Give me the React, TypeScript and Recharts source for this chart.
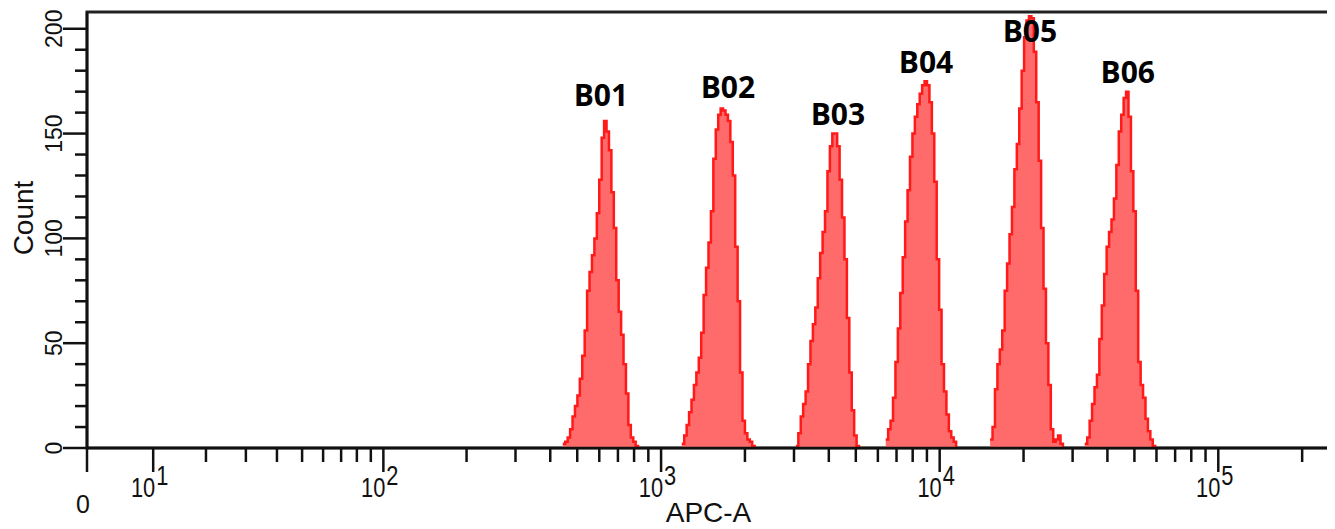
import React from 'react';
import { AreaChart, Area, XAxis, YAxis, ReferenceArea, ReferenceDot, Label } from 'recharts';

// APC-A is shown on a biexponential (arcsinh) scale, binned into 512 display channels
const CHANNELS = 512;
const T_WIDTH = 17.4;
const CH_PER_UNIT = 49.84;
const toChannel = (v: number) => Math.asinh(v / T_WIDTH) * CH_PER_UNIT;

const PEAK_NAMES = ['B01', 'B02', 'B03', 'B04', 'B05', 'B06'];
const PEAK_START = [196, 245, 292, 329, 372, 411];

const B01_COUNTS = [2, 3, 5, 9, 15, 20, 25, 33, 44, 56, 75, 84, 92, 100, 112, 128, 148, 156, 151, 142, 122, 105, 80, 65, 54, 40, 26, 11, 5, 3, 1];
const B02_COUNTS = [2, 6, 11, 17, 23, 30, 36, 43, 55, 73, 86, 98, 113, 138, 152, 159, 162, 161, 159, 156, 146, 130, 96, 70, 36, 13, 7, 4, 3, 1];
const B03_COUNTS = [1, 7, 15, 21, 27, 40, 51, 59, 67, 81, 93, 103, 113, 132, 144, 150, 150, 144, 128, 110, 90, 62, 36, 18, 6, 1];
const B04_COUNTS = [4, 9, 13, 24, 41, 57, 74, 91, 108, 123, 139, 150, 158, 164, 169, 173, 175, 173, 165, 150, 127, 90, 66, 40, 27, 16, 8, 5, 3];
const B05_COUNTS = [4, 10, 28, 40, 47, 56, 75, 88, 102, 115, 133, 145, 162, 180, 196, 204, 206, 205, 189, 165, 137, 105, 76, 50, 30, 9, 3, 4, 6, 2];
const B06_COUNTS = [2, 5, 13, 21, 29, 35, 52, 68, 83, 96, 103, 109, 119, 135, 151, 159, 167, 170, 158, 132, 113, 75, 41, 30, 24, 14, 8, 4, 1];
const PEAK_COUNTS = [B01_COUNTS, B02_COUNTS, B03_COUNTS, B04_COUNTS, B05_COUNTS, B06_COUNTS];

// where each peak name sits (channel, count)
const LABEL_CH = [211.7, 264, 309.3, 345.6, 388.4, 428.7];
const LABEL_COUNT = [168, 172, 159, 184, 199, 179];

const X_MAJOR = [0, 10, 100, 1000, 10000, 100000];
const X_MINOR = [
  20, 30, 40, 50, 60, 70, 80, 90,
  200, 300, 400, 500, 600, 700, 800, 900,
  2000, 3000, 4000, 5000, 6000, 7000, 8000, 9000,
  20000, 30000, 40000, 50000, 60000, 70000, 80000, 90000,
  200000,
];
const Y_TICKS = [0, 10, 20, 30, 40, 50, 60, 70, 80, 90, 100, 110, 120, 130, 140, 150, 160, 170, 180, 190, 200];
const Y_MAX = 208;

const rows: { ch: number; count: number | null }[] = [];
PEAK_COUNTS.forEach((counts, p) => {
  counts.forEach((n, i) => rows.push({ ch: PEAK_START[p] + i, count: n }));
  const end = PEAK_START[p] + counts.length;
  rows.push({ ch: end, count: 0 });
  rows.push({ ch: end + 0.5, count: null });
});

const xTicks = [
  ...X_MAJOR.map((v) => ({ v, major: true })),
  ...X_MINOR.map((v) => ({ v, major: false })),
]
  .map((t) => ({ ...t, ch: toChannel(t.v) }))
  .sort((a, b) => a.ch - b.ch);

const AXIS = '#111';
const FONT = '"Liberation Sans", Arial, sans-serif';

const XTick = ({ x, y, payload }: any) => {
  const t = xTicks.find((k) => Math.abs(k.ch - payload.value) < 1e-6);
  if (!t) return null;
  const len = t.major ? 24 : 14;
  let label: React.ReactNode = null;
  if (t.major && t.v === 0) {
    label = (
      <text x={x - 4} y={y + 65} textAnchor="middle" fontSize={25} fontFamily={FONT} fill={AXIS}>0</text>
    );
  } else if (t.major) {
    const exp = Math.round(Math.log10(t.v));
    label = (
      <>
        <g transform={`translate(${x + 2},${y + 49}) scale(0.78,1)`}>
          <text textAnchor="end" fontSize={28} fontFamily={FONT} fill={AXIS}>10</text>
        </g>
        <g transform={`translate(${x + 3},${y + 37}) scale(0.78,1)`}>
          <text textAnchor="start" fontSize={28} fontFamily={FONT} fill={AXIS}>{exp}</text>
        </g>
      </>
    );
  }
  return (
    <g>
      <line x1={x} y1={y} x2={x} y2={y + len} stroke={AXIS} strokeWidth={2.5} />
      {label}
    </g>
  );
};

const YTick = ({ x, y, payload }: any) => {
  const v = payload.value;
  const major = v % 50 === 0;
  return (
    <g>
      <line x1={x - (major ? 24 : 12)} y1={y} x2={x} y2={y} stroke={AXIS} strokeWidth={2.5} />
      {major && (
        <text transform={`translate(${x - 25},${y}) rotate(-90)`} textAnchor="middle" fontSize={23} fontFamily={FONT} fill={AXIS}>
          {v}
        </text>
      )}
    </g>
  );
};

export default function App() {
  return (
    <AreaChart width={1327} height={521} data={rows} margin={{ top: 4, right: 5, left: 0, bottom: 0 }}>
      <XAxis
        dataKey="ch"
        type="number"
        domain={[0, CHANNELS]}
        ticks={xTicks.map((t) => t.ch)}
        interval={0}
        tickSize={0}
        tickMargin={0}
        tickLine={false}
        tick={<XTick />}
        axisLine={{ stroke: AXIS, strokeWidth: 2.5 }}
        height={81}
      >
        <Label
          content={({ viewBox }: any) => (
            <text x={viewBox.x + viewBox.width / 2} y={viewBox.y + 74} textAnchor="middle" fontSize={28} fontFamily={FONT} fill={AXIS}>
              APC-A
            </text>
          )}
        />
      </XAxis>
      <YAxis
        type="number"
        domain={[0, Y_MAX]}
        ticks={Y_TICKS}
        interval={0}
        tickSize={0}
        tickMargin={0}
        tickLine={false}
        tick={<YTick />}
        axisLine={{ stroke: AXIS, strokeWidth: 2.5 }}
        width={79}
      >
        <Label
          content={({ viewBox }: any) => (
            <text
              transform={`translate(${viewBox.x + 25},${viewBox.y + viewBox.height / 2 - 12}) rotate(-90)`}
              textAnchor="middle"
              fontSize={28}
              fontFamily={FONT}
              fill={AXIS}
            >
              Count
            </text>
          )}
        />
      </YAxis>
      <ReferenceArea x1={0} x2={CHANNELS} y1={0} y2={Y_MAX} fill="none" stroke="#222" strokeWidth={3} />
      <Area
        type="stepAfter"
        dataKey="count"
        stroke="#ff1a1a"
        strokeWidth={2.5}
        fill="#ff6b6b"
        fillOpacity={1}
        dot={false}
        activeDot={false}
        isAnimationActive={false}
      />
      {PEAK_NAMES.map((name, i) => (
        <ReferenceDot
          key={name}
          x={LABEL_CH[i]}
          y={LABEL_COUNT[i]}
          r={1}
          fill="none"
          stroke="none"
          label={{ value: name, position: 'center', fontSize: 30, fontWeight: 700, fill: '#000', fontFamily: '"Open Sans", sans-serif' }}
        />
      ))}
    </AreaChart>
  );
}
